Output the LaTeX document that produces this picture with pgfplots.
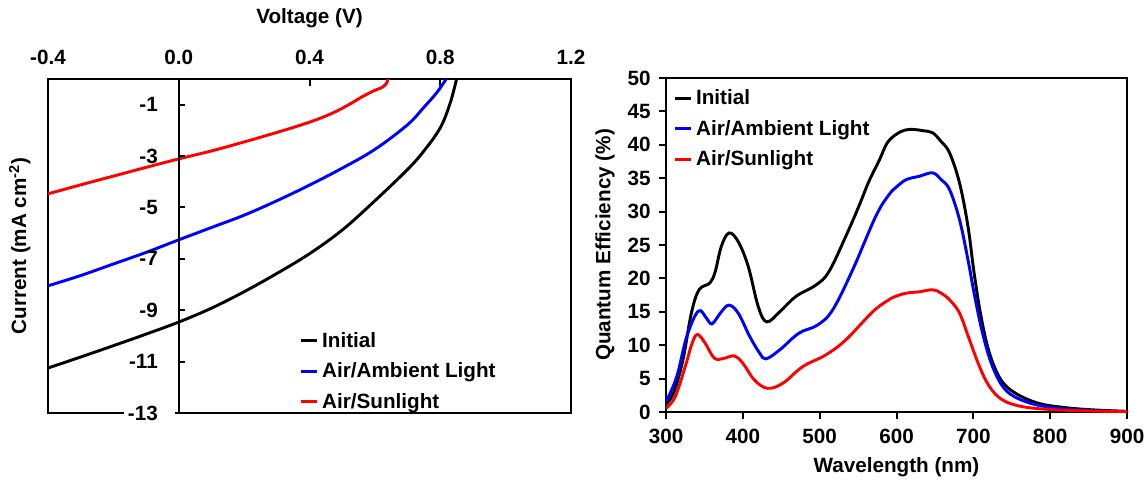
\documentclass[border=0pt]{standalone}
\usepackage{fontspec}
\setmainfont{Liberation Sans}
\usepackage{pgfplots}
\pgfplotsset{compat=1.18}

\newcommand\lbl{\fontsize{15.5}{18}\selectfont\bfseries}

% J-V curves: voltage (V), current density (mA cm^-2)
\pgfplotstableread{
V J
-0.40 -11.25
-0.30 -10.82
-0.20 -10.38
-0.10 -9.93
0.00 -9.46
0.10 -8.92
0.20 -8.28
0.30 -7.57
0.40 -6.80
0.50 -5.88
0.60 -4.74
0.70 -3.52
0.75 -2.80
0.80 -1.90
0.83 -0.95
0.85 0.00
}\jvInitial
\pgfplotstableread{
V J
-0.40 -8.05
-0.30 -7.65
-0.20 -7.20
-0.10 -6.75
0.00 -6.26
0.10 -5.78
0.20 -5.30
0.30 -4.74
0.40 -4.13
0.50 -3.47
0.60 -2.74
0.70 -1.78
0.75 -1.10
0.79 -0.52
0.818 0.00
}\jvAmbient
\pgfplotstableread{
V J
-0.40 -4.47
-0.30 -4.12
-0.20 -3.78
-0.10 -3.44
0.00 -3.11
0.10 -2.80
0.20 -2.45
0.30 -2.08
0.40 -1.68
0.47 -1.33
0.52 -1.00
0.56 -0.70
0.60 -0.44
0.62 -0.34
0.635 -0.18
0.64 0.00
}\jvSun

% External quantum efficiency spectra: wavelength (nm), QE (%)
\pgfplotstableread{
L Q
300 1.2
310 2.9
322 7.8
333 14.8
343 18.3
357 19.3
364 21.0
372 24.8
382 26.8
394 25.5
407 21.8
420 15.8
431 13.5
448 15.0
469 17.3
495 19.0
512 21.0
534 26.3
551 30.8
564 34.5
578 37.8
588 40.3
600 41.6
611 42.2
622 42.3
635 42.1
647 41.8
658 40.5
669 38.8
682 34.3
693 27.8
701 20.8
710 14.3
721 8.8
736 4.8
755 2.8
785 1.3
820 0.65
859 0.3
900 0.1
}\qeInitial
\pgfplotstableread{
L Q
300 1.5
314 5.3
327 11.3
342 15.1
353 14.0
360 13.2
372 15.0
382 16.0
394 14.8
409 11.3
422 8.8
430 7.95
448 9.3
473 11.8
497 13.0
517 15.3
543 21.3
573 29.3
590 32.5
601 33.8
613 34.8
630 35.3
647 35.8
658 34.8
669 33.3
682 28.8
693 22.8
701 17.8
712 11.8
725 6.8
742 3.3
768 1.55
803 0.65
846 0.25
900 0.05
}\qeAmbient
\pgfplotstableread{
L Q
300 0.55
312 2.3
325 6.8
334 10.3
341 11.6
351 10.3
363 8.05
376 8.05
389 8.4
400 7.3
415 4.8
432 3.55
452 4.3
478 6.8
508 8.55
534 10.8
569 15.0
590 16.8
601 17.4
613 17.8
630 18.0
647 18.3
658 17.8
669 16.8
682 14.8
695 10.8
708 6.8
721 3.8
738 1.8
764 0.8
803 0.35
854 0.15
900 0.05
}\qeSun

\pgfplotsset{
  panel/.style={
    scale only axis, anchor=south west,
    axis line style={line width=1.8pt},
    tick style={line width=1.5pt, black},
    major tick length=5pt,
    every tick label/.append style={font=\lbl},
    label style={font=\lbl},
    /pgf/number format/assume math mode=true,
    legend style={draw=none, fill=none, font=\lbl, inner sep=0pt,
      row sep=6pt, column sep=1pt, cells={anchor=west}},
    legend image code/.code={\draw[##1, line width=2.2pt] (0pt,0pt) -- (12pt,0pt);},
    every axis plot/.append style={line width=2.2pt, smooth, tension=0.6},
  },
}

\begin{document}
\begin{tikzpicture}
\path[use as bounding box] (0,0) rectangle (861pt,359.25pt);

% ---- J-V panel: frame, top voltage axis, curves ----
\begin{axis}[panel,
  at={(36pt,49.5pt)}, width=392.25pt, height=250.5pt,
  xmin=-0.4, xmax=1.2, ymin=-13, ymax=0,
  xtick={-0.4,0,0.4,0.8,1.2},
  xticklabels={-0.4,0.0,0.4,0.8,1.2},
  xtick pos=right, xticklabel pos=right, tick align=inside,
  xticklabel style={yshift=7pt},
  ytick=\empty,
  xlabel={Voltage (V)},
  xlabel style={at={(axis description cs:0.5,1.183)}, anchor=center},
  ylabel={Current (mA cm\textsuperscript{-2})},
  ylabel style={at={(axis description cs:-0.054,0.5)}, anchor=center},
  legend style={at={(axis description cs:0.48,0.250)}, anchor=north west},
]
\addplot[black] table[x=V, y=J] {\jvInitial};
\addplot[blue] table[x=V, y=J] {\jvAmbient};
\addplot[red] table[x=V, y=J] {\jvSun};
\legend{Initial, Air/Ambient Light, Air/Sunlight}
\end{axis}

% ---- J-V panel: current axis through V = 0 ----
\begin{axis}[panel,
  at={(36pt,49.5pt)}, width=392.25pt, height=250.5pt,
  xmin=-0.4, xmax=1.2, ymin=-13, ymax=0,
  axis x line=none, axis y line=middle,
  y axis line style={-},
  ytick={-11,-9,-7,-5,-3,-1},
  yticklabels={{-11\hspace*{10pt}},{-9\hspace*{10pt}},{-7\hspace*{10pt}},{-5\hspace*{10pt}},{-3\hspace*{10pt}},{-1\hspace*{10pt}}},
  extra y ticks={-13},
  extra y tick labels={{-13\hspace*{10pt}}},
  extra y tick style={yticklabel style={fill=white}},
  tick align=center,
  y tick style={xshift=2.5pt},
  yticklabel style={anchor=east, inner xsep=3pt, inner ysep=1pt},
]
\end{axis}

% ---- Quantum efficiency panel ----
\begin{axis}[panel,
  at={(499.5pt,50.25pt)}, width=345.75pt, height=250.5pt,
  xmin=300, xmax=900, ymin=0, ymax=50,
  xtick={300,400,...,900}, ytick={0,5,...,50},
  tick align=outside, xtick pos=left, ytick pos=left,
  xticklabel style={yshift=-4pt},
  yticklabel style={xshift=-3pt},
  xlabel={Wavelength (nm)},
  xlabel style={at={(axis description cs:0.5,-0.165)}, anchor=center},
  ylabel={Quantum Efficiency (\%)},
  ylabel style={at={(axis description cs:-0.132,0.5)}, anchor=center},
  legend style={at={(axis description cs:0.015,0.973)}, anchor=north west},
]
\addplot[black] table[x=L, y=Q] {\qeInitial};
\addplot[blue] table[x=L, y=Q] {\qeAmbient};
\addplot[red] table[x=L, y=Q] {\qeSun};
\legend{Initial, Air/Ambient Light, Air/Sunlight}
\end{axis}
\end{tikzpicture}
\end{document}
